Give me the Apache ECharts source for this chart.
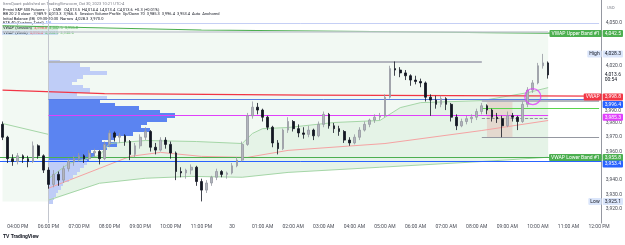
<!DOCTYPE html>
<html>
<head>
<meta charset="utf-8">
<script src="https://cdn.jsdelivr.net/npm/echarts@6/dist/echarts.min.js"></script>
<style>
  html, body { margin: 0; padding: 0; background: #fff; }
  #chart { width: 625px; height: 245px; }
</style>
</head>
<body>
<div id="chart"></div>
<script>
// 10-minute bars, 15:30 -> 16:50, gap, 18:00 -> 12:00 next day
const sessionRanges = [['15:30', '16:50'], ['18:00', '23:50'], ['00:00', '12:00']];
const dayLabel = '30';

const opens = [3979,3970,3955,3953,3957,3955,3953,3964,3957,3947, 3937,3944,3940,3948,3953,3955,3957,3955,3959,3960,
  3955,3965,3973,3970,3971,3967,3958,3964,3970,3974, 3963,3961,3968,3965,3959,3946,3945,3947,3949,3939,
  3933,3938,3942,3946,3944,3945,3950,3954,3965,3985, 3991,3989,3984,3977,3966,3962,3975,3981,3976,3973,
  3972,3975,3971,3979,3986,3978,3976,3974,3968,3966, 3970,3975,3979,3982,3984,3985,3998,4018,4017,4015,
  4013,4010,4009,4008,3998,3996,3993,3997,3993,3984, 3978,3981,3983,3984,3988,3992,3989,3984,3983,3978,
  3985,3984,3981,3993,4003,4008,4020,4022];
const highs = [3981,3971,3958,3959,3958,3957,3967,3965,3958,3949, 3947,3946,3950,3955,3957,3959,3958,3961,3962,3961,
  3967,3975,3974,3973,3972,3968,3966,3972,3977,3975, 3966,3970,3970,3967,3960,3949,3948,3951,3950,3941,
  3940,3943,3948,3947,3946,3952,3956,3967,3987,3995, 3994,3990,3985,3978,3968,3976,3984,3982,3979,3977,
  3978,3976,3981,3988,3987,3980,3978,3975,3970,3972, 3977,3981,3983,3986,3987,4000,4020,4023,4019,4017,
  4014,4013,4011,4009,4000,3999,3999,3998,3994,3986, 3983,3985,3986,3990,3994,3993,3990,3987,3985,3988,
  3987,3985,3995,4005,4010,4022,4028.3,4023];
const lows = [3968,3952,3950,3951,3952,3949,3952,3955,3945,3934, 3935,3936,3938,3946,3950,3953,3952,3954,3956,3951,
  3954,3963,3967,3966,3964,3954,3956,3962,3968,3960, 3958,3960,3962,3955,3940,3942,3941,3944,3936,3925.1,
  3931,3936,3940,3942,3941,3944,3949,3953,3964,3983, 3986,3981,3975,3963,3958,3961,3973,3974,3970,3969,
  3970,3968,3970,3977,3976,3973,3971,3966,3964,3965, 3968,3974,3977,3980,3982,3984,3997,4013,4012,4010,
  4006,4007,4005,3995,3985,3990,3991,3989,3981,3975, 3977,3979,3980,3982,3986,3986,3981,3980,3970,3977,
  3981,3975,3980,3991,4001,4007,4018,4011];
const closes = [3970,3955,3953,3957,3955,3953,3964,3957,3947,3937, 3944,3940,3948,3953,3955,3957,3955,3959,3960,3955,
  3965,3973,3970,3971,3967,3958,3964,3970,3974,3963, 3961,3968,3965,3959,3946,3945,3947,3949,3939,3933,
  3938,3942,3946,3944,3945,3950,3954,3965,3985,3991, 3989,3984,3977,3966,3962,3975,3981,3976,3973,3972,
  3975,3971,3979,3986,3978,3976,3974,3968,3966,3970, 3975,3979,3982,3984,3985,3998,4018,4017,4015,4013,
  4010,4009,4008,3998,3996,3993,3997,3993,3984,3978, 3981,3983,3984,3988,3992,3989,3984,3983,3978,3985,
  3984,3981,3993,4003,4008,4020,4022,4013.6];

// Session volume profile (price level, contracts)
const profileLevels = [4022.5,4020,4017.5,4015,4012.5,4010,4007.5,4005,4002.5,4000,
  3997.5,3995,3992.5,3990,3987.5,3985,3982.5,3980,3977.5,3975,
  3972.5,3970,3967.5,3965,3962.5,3960,3957.5,3955,3952.5,3950,
  3947.5,3945,3942.5,3940,3937.5,3935,3932.5,3930,3927.5,3925];
const profileVolumes = [1100,3100,4100,5800,3400,2800,2300,3400,4100,2800,
  5800,5100,6600,9000,11100,12600,11800,9800,9200,10100,
  8400,6600,5300,6800,5800,4200,4600,4000,3800,3500,
  3100,2800,2400,2000,1400,1200,900,700,500,400];
const valueAreaHigh = 3996.4, valueAreaLow = 3953.4, pocPrice = 3985.3;

// VWAP lines: [bar index, price]
const prevVwap = [[0, 4003], [20, 4000.5], [60, 3999.4], [117, 3998.8]];
const upperBandOuter = [[0, 4048], [39, 4045], [117, 4042.5]];
const preSessionBand = [[0, 3979.6], [9, 3972]];
const sessionVwap = [[9, 3934.3], [19, 3948.2], [25, 3956.6], [31, 3959.4], [39, 3956.6], [48, 3955.9],
  [56, 3960.8], [75, 3965.6], [94, 3974.7], [107, 3981.7]];
const sessionUpper = [[9, 3941], [13, 3951.7], [19, 3957.3], [21, 3965.6], [28, 3967.7], [38, 3967], [47, 3965.6],
  [49, 3972.6], [51, 3976], [56, 3976.8], [65, 3980.3], [74, 3981.7], [78, 3990.7], [82, 3994.2], [94, 3995.6],
  [103, 4001.2], [107, 4004.7]];
const sessionLower = [[9, 3926], [19, 3937.8], [28, 3941.3], [37, 3942.6], [47, 3942], [56, 3945.4],
  [74, 3949], [94, 3953], [107, 3956]];

const categories = [];
sessionRanges.forEach(([a, b]) => {
  const toMin = s => +s.slice(0, 2) * 60 + +s.slice(3);
  for (let m = toMin(a); m <= toMin(b); m += 10) {
    categories.push(String(Math.floor(m / 60)).padStart(2, '0') + ':' + String(m % 60).padStart(2, '0'));
  }
});

const candles = opens.map((o, i) => [o, closes[i], lows[i], highs[i]]);
const fmt = v => v.toLocaleString('en-US', { minimumFractionDigits: 1, maximumFractionDigits: 1 });

const FONT = 'Roboto';
const tag = (text, bg, color, extra) => Object.assign({
  show: true, position: 'end', distance: 1, formatter: text, backgroundColor: bg, color: color || '#fff',
  fontSize: 5, fontFamily: FONT, padding: [1, 2, 1, 2], borderRadius: 1
}, extra || {});
const hidden = { color: 'rgba(0,0,0,0)', width: 0.1, type: 'solid' };

var chartDom = document.getElementById('chart');
var myChart = echarts.init(chartDom, null, { renderer: 'canvas' });

function polygonItem(topLine, bottomLine, fill) {
  return function (params, api) {
    const pts = topLine.map(p => api.coord(p)).concat(bottomLine.slice().reverse().map(p => api.coord(p)));
    return { type: 'polygon', shape: { points: pts }, style: { fill: fill }, silent: true };
  };
}

const outerBottom = [[-0.5, 3925], [9, 3925]].concat(sessionLower.slice(1));
const outerTop = [[-0.5, 4048], [39, 4045], [107.4, 4043.2]];
outerBottom[outerBottom.length - 1] = [107.4, 3956];

var option = {
  animation: false,
  backgroundColor: '#ffffff',
  grid: [
    { left: 0, right: 23, top: 0, bottom: 22 },
    { left: 49, right: 23, top: 0, bottom: 22 }
  ],
  xAxis: [
    {
      type: 'category', data: categories, gridIndex: 0, boundaryGap: true,
      axisLine: { show: false }, axisTick: { show: false }, splitLine: { show: false },
      axisLabel: {
        fontSize: 5, color: '#4a4d57', fontFamily: FONT, margin: 1,
        interval: (idx, val) => val.endsWith(':00'),
        formatter: val => {
          if (val === '00:00') return dayLabel;
          let h = +val.slice(0, 2);
          const ap = h >= 12 ? 'PM' : 'AM';
          h = h % 12 === 0 ? 12 : h % 12;
          return String(h).padStart(2, '0') + ':00 ' + ap;
        }
      }
    },
    { type: 'value', gridIndex: 1, min: 0, max: 55300, show: false }
  ],
  yAxis: [
    {
      type: 'value', gridIndex: 0, position: 'right', min: 3910, max: 4066, interval: 10, scale: true,
      axisLine: { show: true, lineStyle: { color: '#9598a1', width: 1 } },
      axisTick: { show: false }, splitLine: { show: false },
      axisLabel: {
        fontSize: 5, color: '#4a4d57', fontFamily: FONT, margin: 4, showMaxLabel: false, showMinLabel: false,
        formatter: v => [4060, 4040, 4030, 4010, 4000, 3990, 3950].includes(v) ? '' : fmt(v)
      }
    },
    { type: 'value', gridIndex: 1, min: 3910, max: 4066, show: false }
  ],
  graphic: [
    { type: 'text', left: 3, top: 2, style: { text: 'ItemQuant published on TradingView.com, Oct 30, 2023 10:21 UTC-4', fontSize: 4, fill: '#787b86', fontFamily: FONT } },
    { type: 'text', left: 3, top: 7.5, style: { text: 'E-mini S&P 500 Futures · 5 · CME   O4,013.5  H4,014.4  L4,013.4  C4,013.6  +0.3 (+0.01%)', fontSize: 4, fill: '#131722', fontFamily: FONT } },
    { type: 'text', left: 3, top: 12, style: { text: 'BB 20 2 0 close   3,989.9  4,013.3  3,966.5   Session Volume Profile  Up/Down 70  3,985.3  3,996.4  3,953.4  Auto  Anchored', fontSize: 4, fill: '#131722', fontFamily: FONT } },
    { type: 'text', left: 3, top: 16.5, style: { text: 'Initial Balance (IB)  09:30-10:30  Narrow  4,028.3  3,970.0', fontSize: 4, fill: '#131722', fontFamily: FONT } },
    { type: 'text', left: 3, top: 21, style: { text: 'ETF 40 (Custom, Total)  {b|1.0}', fontSize: 4, fill: '#131722', fontFamily: FONT, rich: { b: { fill: '#2962ff', fontSize: 4 } } } },
    { type: 'rect', left: 2, top: 25.5, shape: { width: 56, height: 4.5 }, style: { fill: 'rgba(76,175,80,0.15)' } },
    { type: 'text', left: 3, top: 26, style: { text: 'VWAP (Session)  {r|3,998.8}  {g|4,042.5}  {g|3,955.8}', fontSize: 4, fill: '#131722', fontFamily: FONT, rich: { r: { fill: '#f23645', fontSize: 4 }, g: { fill: '#4caf50', fontSize: 4 } } } },
    { type: 'rect', left: 2, top: 30.5, shape: { width: 56, height: 4.5 }, style: { fill: 'rgba(41,98,255,0.18)' } },
    { type: 'text', left: 3, top: 31, style: { text: 'VWAP (Week)  {r|3,996.4}  {g|4,004.5}  {g|3,938.6}', fontSize: 4, fill: '#131722', fontFamily: FONT, rich: { r: { fill: '#f23645', fontSize: 4 }, g: { fill: '#4caf50', fontSize: 4 } } } },
    { type: 'text', left: 3, top: 234, style: { text: '{l|TV} TradingView', fontSize: 5, fontWeight: 'bold', fill: '#131722', fontFamily: FONT, rich: { l: { fontSize: 5, fontWeight: 'bold', fill: '#131722' } } } },
    { type: 'text', left: 607, top: 6, style: { text: 'USD', fontSize: 4, fill: '#787b86', fontFamily: FONT } }
  ],
  series: [
    {
      type: 'custom', name: 'band fill outer', xAxisIndex: 0, yAxisIndex: 0, z: 1, silent: true,
      data: [[0, 4000]], renderItem: polygonItem(outerTop, outerBottom, 'rgba(76,175,80,0.07)')
    },
    {
      type: 'custom', name: 'band fill session', xAxisIndex: 0, yAxisIndex: 0, z: 1, silent: true,
      data: [[9, 3950]], renderItem: polygonItem(sessionUpper, sessionLower, 'rgba(76,175,80,0.07)')
    },
    {
      type: 'custom', name: 'volume profile', xAxisIndex: 1, yAxisIndex: 1, z: 2, silent: true,
      data: profileLevels.map((p, i) => [profileVolumes[i], p]),
      encode: { x: 0, y: 1 },
      renderItem: (params, api) => {
        const v = api.value(0), p = api.value(1);
        const a = api.coord([0, p + 1.3]);
        const b = api.coord([v, p - 1.3]);
        const inVA = p >= valueAreaLow && p <= valueAreaHigh;
        return {
          type: 'rect', shape: { x: a[0], y: Math.floor(a[1]), width: b[0] - a[0], height: Math.ceil(b[1]) - Math.floor(a[1]) },
          style: { fill: inVA ? '#5b84f1' : '#bfcdf7' }
        };
      }
    },
    { type: 'line', name: 'pre band', data: preSessionBand, symbol: 'none', z: 3, lineStyle: { color: '#a5d6a7', width: 1 } },
    { type: 'line', name: 'session upper', data: sessionUpper, symbol: 'none', z: 3, lineStyle: { color: '#a5d6a7', width: 1 } },
    { type: 'line', name: 'session lower', data: sessionLower, symbol: 'none', z: 3, lineStyle: { color: '#a5d6a7', width: 1 } },
    { type: 'line', name: 'session vwap', data: sessionVwap, symbol: 'none', z: 3, lineStyle: { color: '#f5a3a3', width: 1 } },
    { type: 'line', name: 'upper band', data: upperBandOuter, symbol: 'none', z: 3, lineStyle: { color: '#4caf50', width: 1.2 } },
    { type: 'line', name: 'vwap', data: prevVwap, symbol: 'none', z: 3, lineStyle: { color: '#f23645', width: 1.2 } },
    {
      type: 'scatter', name: 'marker', data: [[104, 3998.4]], z: 6, symbol: 'circle', symbolSize: 16, silent: true,
      itemStyle: { color: 'rgba(0,0,0,0)', borderColor: '#e040fb', borderWidth: 1.3 }
    },
    {
      type: 'candlestick', name: 'ES', data: candles, z: 5, barWidth: 2.2,
      itemStyle: { color: '#b2b5be', color0: '#131722', borderColor: '#9598a1', borderColor0: '#131722', borderWidth: 0.8 },
      markArea: {
        silent: true,
        itemStyle: { color: 'rgba(242,54,69,0.15)' },
        data: [[{ coord: [95, 3995.6] }, { coord: [100, 3970] }]]
      },
      markLine: {
        symbol: 'none', silent: true, animation: false,
        label: { show: false },
        data: [
          { xAxis: 9, lineStyle: { color: '#c3c6ce', width: 1, type: 'solid' }, label: { show: false } },
          [{ coord: [0, 4044], lineStyle: { color: '#c9ccd4', width: 1.5, type: 'solid' } }, { coord: [107, 4044] }],
          [{ coord: [0, 4049.5], lineStyle: { color: '#c5cff5', width: 1, type: 'solid' } }, { coord: [117, 4049.5] }],
          [{ coord: [9, 4022.5], lineStyle: { color: '#b2b5be', width: 2, type: 'solid' } }, { coord: [94, 4022.5] }],
          [{ coord: [9, pocPrice], lineStyle: { color: '#e040fb', width: 1, type: 'solid' } }, { coord: [107, pocPrice] }],
          [{ coord: [9, valueAreaHigh], lineStyle: { color: '#5b7ee5', width: 1, type: 'solid' } }, { coord: [117, valueAreaHigh] }],
          [{ coord: [94, 3995.2], lineStyle: { color: '#b2b5be', width: 2, type: 'solid' } }, { coord: [117, 3995.2] }],
          [{ coord: [94, 3990], lineStyle: { color: '#5ad44e', width: 1.2, type: 'solid' } }, { coord: [117, 3990] }],
          [{ coord: [94, 3983], lineStyle: { color: '#787b86', width: 0.8, type: 'dashed' } }, { coord: [107, 3983] }],
          [{ coord: [94, 3970], lineStyle: { color: '#9598a1', width: 1, type: 'solid' } }, { coord: [117, 3970] }],
          { yAxis: 3955.8, lineStyle: { color: '#4caf50', width: 1.2, type: 'solid' }, label: tag('3,955.8', '#4caf50') },
          { yAxis: 3955.8, lineStyle: hidden, label: tag('VWAP Lower Band #1', '#4caf50', '#fff', { position: 'insideEnd', distance: 0 }) },
          { yAxis: valueAreaLow, lineStyle: { color: '#2962ff', width: 1, type: 'solid' }, label: tag('3,953.4', '#2962ff', '#fff', { offset: [0, 3] }) },
          { yAxis: 4042.5, lineStyle: hidden, label: tag('4,042.5', '#4caf50') },
          { yAxis: 4042.5, lineStyle: hidden, label: tag('VWAP Upper Band #1', '#4caf50', '#fff', { position: 'insideEnd', distance: 0 }) },
          { yAxis: 4028.3, lineStyle: hidden, label: tag('4,028.3', '#dbe6fb', '#131722') },
          { yAxis: 4028.3, lineStyle: hidden, label: tag('High', '#dbe6fb', '#131722', { position: 'insideEnd', distance: 0 }) },
          { yAxis: 4013.6, lineStyle: hidden, label: tag('4,013.6\n00:54', 'rgba(0,0,0,0)', '#131722', { lineHeight: 5, offset: [0, 2] }) },
          { yAxis: 3998.8, lineStyle: hidden, label: tag('3,998.8', '#f23645', '#fff', { offset: [0, 1] }) },
          { yAxis: 3998.8, lineStyle: hidden, label: tag('VWAP', '#f23645', '#fff', { position: 'insideEnd', distance: 0, offset: [0, 1] }) },
          { yAxis: valueAreaHigh, lineStyle: hidden, label: tag('3,996.4', '#2962ff', '#fff', { offset: [0, 5] }) },
          { yAxis: 3990, lineStyle: hidden, label: tag('3,990.0', 'rgba(0,0,0,0)', '#4a4d57', { offset: [0, 2] }) },
          { yAxis: pocPrice, lineStyle: hidden, label: tag('3,985.3', '#e040fb', '#fff', { offset: [0, 2] }) },
          { yAxis: 3925.1, lineStyle: hidden, label: tag('3,925.1', '#dbe6fb', '#131722') },
          { yAxis: 3925.1, lineStyle: hidden, label: tag('Low', '#dbe6fb', '#131722', { position: 'insideEnd', distance: 0 }) }
        ]
      }
    }
  ]
};

myChart.setOption(option);
</script>
</body>
</html>
